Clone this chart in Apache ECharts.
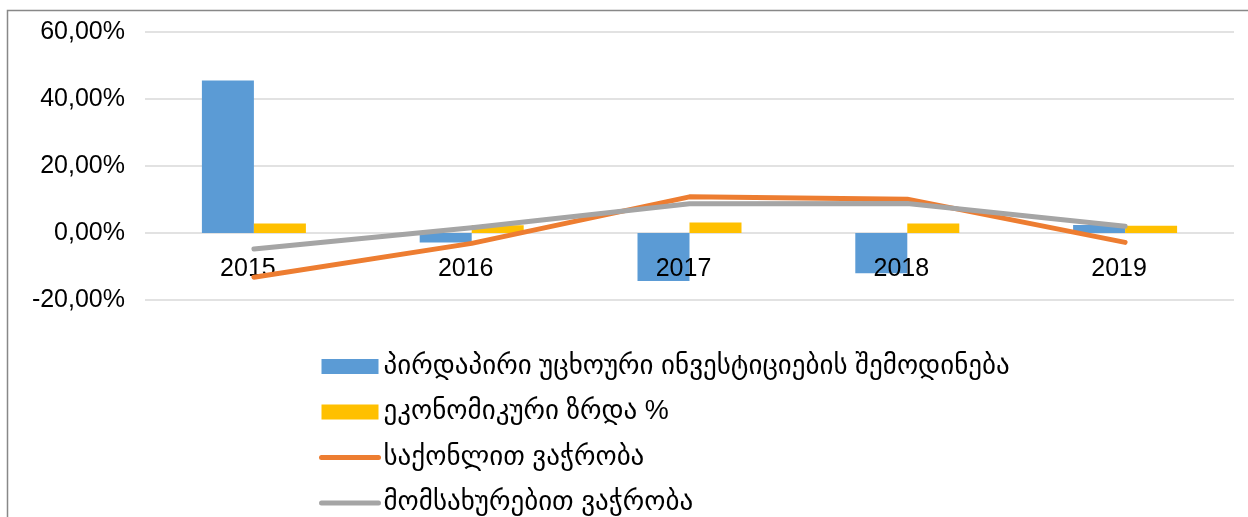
<!DOCTYPE html>
<html>
<head>
<meta charset="utf-8">
<script src="https://cdn.jsdelivr.net/npm/echarts@6/dist/echarts.min.js"></script>
<style>
  html, body { margin: 0; padding: 0; background: #fff; }
  #chart { width: 1248px; height: 517px; }
</style>
</head>
<body>
<div id="chart"></div>
<script>
const years = ['2015', '2016', '2017', '2018', '2019']
const fdi = [45.5, -2.8, -14.3, -12.0, 2.4]
const growth = [2.8, 2.3, 3.1, 2.8, 2.2]
const goodsExport = [-13.2, -3.1, 10.8, 10.1, -2.8]
const servicesExport = [-4.8, 1.6, 8.7, 8.8, 2.0]
const names = [
  'პირდაპირი უცხოური ინვესტიციების შემოდინება',
  'ეკონომიკური ზრდა %',
  'საქონლით ვაჭრობა',
  'მომსახურებით ვაჭრობა'
]

const font = '"Liberation Sans", "DejaVu Sans", sans-serif'
const myChart = echarts.init(document.getElementById('chart'))
myChart.setOption({
  animation: false,
  textStyle: { fontFamily: font },
  graphic: [
    {
      type: 'rect',
      shape: { x: 7.5, y: 10.5, width: 1400, height: 700 },
      style: { fill: 'none', stroke: '#888', lineWidth: 1.5 },
      silent: true
    }
  ],
  grid: { left: 145, right: 14, top: 32, bottom: 217 },
  legend: {
    orient: 'vertical',
    left: 314,
    top: 348,
    height: 200,
    itemWidth: 57,
    itemHeight: 15,
    itemGap: 18.5,
    textStyle: { fontSize: 27, color: '#000', fontFamily: font, lineHeight: 27 },
    data: [
      { name: names[0], icon: 'rect' },
      { name: names[1], icon: 'rect' },
      { name: names[2], itemStyle: { opacity: 0 }, lineStyle: { width: 5, cap: 'round', color: '#ED7D31' } },
      { name: names[3], itemStyle: { opacity: 0 }, lineStyle: { width: 5, cap: 'round', color: '#A5A5A5' } }
    ]
  },
  xAxis: {
    type: 'category',
    data: years,
    // labels sit just under the 0 line, like the original
    offset: -67,
    z: 3,
    axisLine: { show: false, onZero: false },
    axisTick: { show: false },
    axisLabel: { fontSize: 25, color: '#000', margin: 24, padding: [0, 12, 0, 0] }
  },
  yAxis: {
    type: 'value',
    min: -20,
    max: 60,
    interval: 20,
    axisLabel: {
      fontSize: 25,
      color: '#000',
      margin: 20,
      formatter: v => v.toFixed(2).replace('.', ',') + '%'
    },
    splitLine: { lineStyle: { color: '#D9D9D9', width: 1.5 } }
  },
  series: [
    {
      name: names[0],
      type: 'bar',
      data: fdi,
      barWidth: 52,
      barGap: 0,
      itemStyle: { color: '#5B9BD5' }
    },
    {
      name: names[1],
      type: 'bar',
      data: growth,
      barWidth: 52,
      itemStyle: { color: '#FFC000' }
    },
    {
      name: names[2],
      type: 'line',
      data: goodsExport,
      symbol: 'none',
      z: 4,
      itemStyle: { color: '#ED7D31' },
      lineStyle: { color: '#ED7D31', width: 5, cap: 'round', join: 'round' }
    },
    {
      name: names[3],
      type: 'line',
      data: servicesExport,
      symbol: 'none',
      z: 4,
      itemStyle: { color: '#A5A5A5' },
      lineStyle: { color: '#A5A5A5', width: 5, cap: 'round', join: 'round' }
    }
  ]
})
</script>
</body>
</html>
